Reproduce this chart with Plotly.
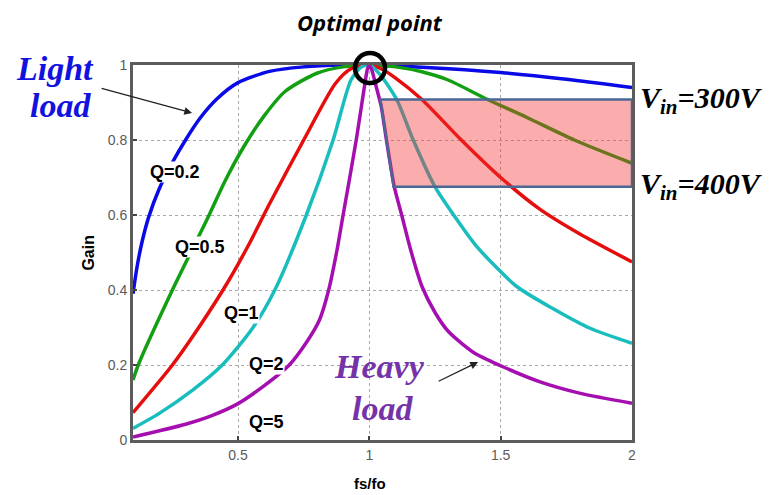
import plotly.graph_objects as go

# Normalised frequency fs/fo and gain for each quality factor
q02_fs = [0.10, 0.115, 0.135, 0.16, 0.20, 0.25, 0.30, 0.355, 0.42, 0.50, 0.62, 0.75, 0.90,
          1.00, 1.20, 1.50, 1.75, 2.00]
q02_gain = [0.39, 0.46, 0.53, 0.595, 0.67, 0.74, 0.80, 0.858, 0.91, 0.953, 0.983, 0.995, 1.0,
            1.0, 0.994, 0.98, 0.962, 0.94]

q05_fs = [0.10, 0.12, 0.25, 0.39, 0.45, 0.52, 0.60, 0.68, 0.80, 0.90, 1.00,
          1.10, 1.20, 1.30, 1.45, 1.60, 1.78, 2.00]
q05_gain = [0.16, 0.20, 0.40, 0.60, 0.69, 0.78, 0.865, 0.93, 0.978, 0.995, 1.0,
            0.995, 0.982, 0.96, 0.908, 0.86, 0.80, 0.738]

q1_fs = [0.10, 0.25, 0.36, 0.46, 0.54, 0.62, 0.75, 0.87, 0.93, 1.00,
         1.05, 1.10, 1.20, 1.35, 1.50, 1.65, 1.80, 2.00]
q1_gain = [0.073, 0.20, 0.31, 0.42, 0.52, 0.63, 0.80, 0.95, 0.99, 1.0,
           0.988, 0.965, 0.908, 0.80, 0.70, 0.615, 0.55, 0.475]

q2_fs = [0.10, 0.20, 0.327, 0.44, 0.555, 0.64, 0.76, 0.862, 0.93, 0.97, 1.00,
         1.04, 1.104, 1.167, 1.25, 1.326, 1.41, 1.56, 1.70, 1.84, 2.00]
q2_gain = [0.031, 0.071, 0.133, 0.20, 0.298, 0.40, 0.60, 0.80, 0.96, 0.995, 1.0,
           0.975, 0.908, 0.80, 0.675, 0.595, 0.515, 0.41, 0.35, 0.298, 0.258]

q5_fs = [0.10, 0.30, 0.40, 0.50, 0.60, 0.695, 0.76, 0.81, 0.845, 0.875, 0.90, 0.95, 0.985,
         0.993, 1.00, 1.01, 1.025, 1.045, 1.065, 1.095, 1.123, 1.16, 1.20, 1.25, 1.30,
         1.40, 1.50, 1.65, 1.80, 2.00]
q5_gain = [0.008, 0.042, 0.065, 0.097, 0.145, 0.20, 0.26, 0.32, 0.40, 0.50, 0.60, 0.80, 0.96,
           0.99, 1.0, 0.985, 0.945, 0.89, 0.80, 0.675, 0.60, 0.50, 0.41, 0.34, 0.29,
           0.232, 0.198, 0.155, 0.125, 0.098]

series = [
    ("Q=0.2", q02_fs, q02_gain, "#0a0ae6"),
    ("Q=0.5", q05_fs, q05_gain, "#12a012"),
    ("Q=1", q1_fs, q1_gain, "#e60d0d"),
    ("Q=2", q2_fs, q2_gain, "#19bdbd"),
    ("Q=5", q5_fs, q5_gain, "#a50fb0"),
]

# Curve labels: text and anchor point (fs, gain)
q_labels = ["Q=0.2", "Q=0.5", "Q=1", "Q=2", "Q=5"]
q_label_fs = [0.26, 0.355, 0.514, 0.61, 0.61]
q_label_gain = [0.716, 0.515, 0.338, 0.204, 0.049]

# Input-voltage operating band
band_gain = [0.675, 0.908]
band_fs_left = [1.092, 1.042]
band_fs_right = 2.0
vin_labels = ["V<sub>in</sub>=300V", "V<sub>in</sub>=400V"]
vin_label_y = [0.907, 0.677]

x_ticks = [0.5, 1, 1.5, 2]
x_tick_text = ["0.5", "1", "1.5", "2"]
y_ticks = [0, 0.2, 0.4, 0.6, 0.8, 1]
y_tick_text = ["0", "0.2", "0.4", "0.6", "0.8", "1"]

fig = go.Figure()
for name, fs, gain, color in series:
    fig.add_trace(go.Scatter(
        x=fs, y=gain, mode="lines", name=name,
        line=dict(color=color, width=3.5, shape="spline", smoothing=0.7),
        showlegend=False, hoverinfo="skip",
    ))

# Shaded operating band drawn over the curves
band_path = (f"M {band_fs_left[1]},{band_gain[1]} L {band_fs_right},{band_gain[1]} "
             f"L {band_fs_right},{band_gain[0]} L {band_fs_left[0]},{band_gain[0]} Z")
fig.add_shape(type="path", path=band_path, xref="x", yref="y", layer="above",
              fillcolor="rgba(245,50,50,0.40)", line=dict(color="#4a6796", width=2.5))

# Circle marking the resonance point (paper-referenced so it is not clipped)
fig.add_shape(type="circle", xref="paper", yref="paper", xsizemode="pixel", ysizemode="pixel",
              xanchor=0.475, yanchor=0.992, x0=-15, x1=15, y0=-15, y1=15,
              line=dict(color="black", width=4.5), layer="above")

serif = "Liberation Serif"
sans = "Liberation Sans"

for text, fx, gy in zip(q_labels, q_label_fs, q_label_gain):
    fig.add_annotation(x=fx, y=gy, text=f"<b>{text}</b>", showarrow=False,
                       font=dict(family=sans, size=18, color="black"),
                       bgcolor="white", borderpad=0)

fig.add_annotation(x=0.475, y=1.115, xref="paper", yref="paper",
                   text="<b><i>Optimal point</i></b>", showarrow=False,
                   xanchor="center", yanchor="middle",
                   font=dict(family="Open Sans", size=22, color="black"))

light_color = "#1212e0"
fig.add_annotation(x=-0.156, y=0.992, xref="paper", yref="paper", text="<b><i>Light</i></b>",
                   showarrow=False, xanchor="center", yanchor="middle",
                   font=dict(family=serif, size=34, color=light_color))
fig.add_annotation(x=-0.146, y=0.893, xref="paper", yref="paper", text="<b><i>load</i></b>",
                   showarrow=False, xanchor="center", yanchor="middle",
                   font=dict(family=serif, size=34, color=light_color))
fig.add_annotation(x=0.325, y=0.872, ax=-92, ay=-25, text="", showarrow=True,
                   arrowhead=2, arrowsize=1.2, arrowwidth=1.3, arrowcolor="#222")

heavy_color = "#7434a8"
fig.add_annotation(x=1.04, y=0.195, text="<b><i>Heavy</i></b>", showarrow=False,
                   xanchor="center", yanchor="middle",
                   font=dict(family=serif, size=34, color=heavy_color))
fig.add_annotation(x=1.05, y=0.085, text="<b><i>load</i></b>", showarrow=False,
                   xanchor="center", yanchor="middle",
                   font=dict(family=serif, size=34, color=heavy_color))
fig.add_annotation(x=1.414, y=0.208, ax=-41, ay=20, text="", showarrow=True,
                   arrowhead=2, arrowsize=1.2, arrowwidth=1.3, arrowcolor="#222")

for text, gy in zip(vin_labels, vin_label_y):
    fig.add_annotation(x=1.012, y=gy, xref="paper", yref="paper",
                       text=f"<b><i>{text}</i></b>", showarrow=False,
                       xanchor="left", yanchor="middle",
                       font=dict(family=serif, size=30, color="black"))

fig.add_annotation(x=-0.09, y=0.5, xref="paper", yref="paper", text="<b>Gain</b>",
                   textangle=-90, showarrow=False, xanchor="center", yanchor="middle",
                   font=dict(family=sans, size=16, color="black"))
fig.add_annotation(x=0.475, y=-0.115, xref="paper", yref="paper", text="<b>fs/fo</b>",
                   showarrow=False, xanchor="center", yanchor="middle",
                   font=dict(family=sans, size=15, color="black"))

axis_common = dict(
    showline=True, mirror=True, linecolor="#5c5c5c", linewidth=3,
    ticks="inside", ticklen=4, tickcolor="#444", tickwidth=2,
    showgrid=True, gridcolor="#a8a8a8", griddash="dot", gridwidth=1.2,
    zeroline=False, tickfont=dict(family=sans, size=14, color="#5a5a5a"),
)
fig.update_xaxes(range=[0.1, 2.0], tickvals=x_ticks, ticktext=x_tick_text, **axis_common)
fig.update_yaxes(range=[0, 1], tickvals=y_ticks, ticktext=y_tick_text, **axis_common)

fig.update_layout(
    width=772, height=495,
    margin=dict(l=133, r=140, t=65, b=55),
    plot_bgcolor="white", paper_bgcolor="white",
)

fig.write_html("out.html")
